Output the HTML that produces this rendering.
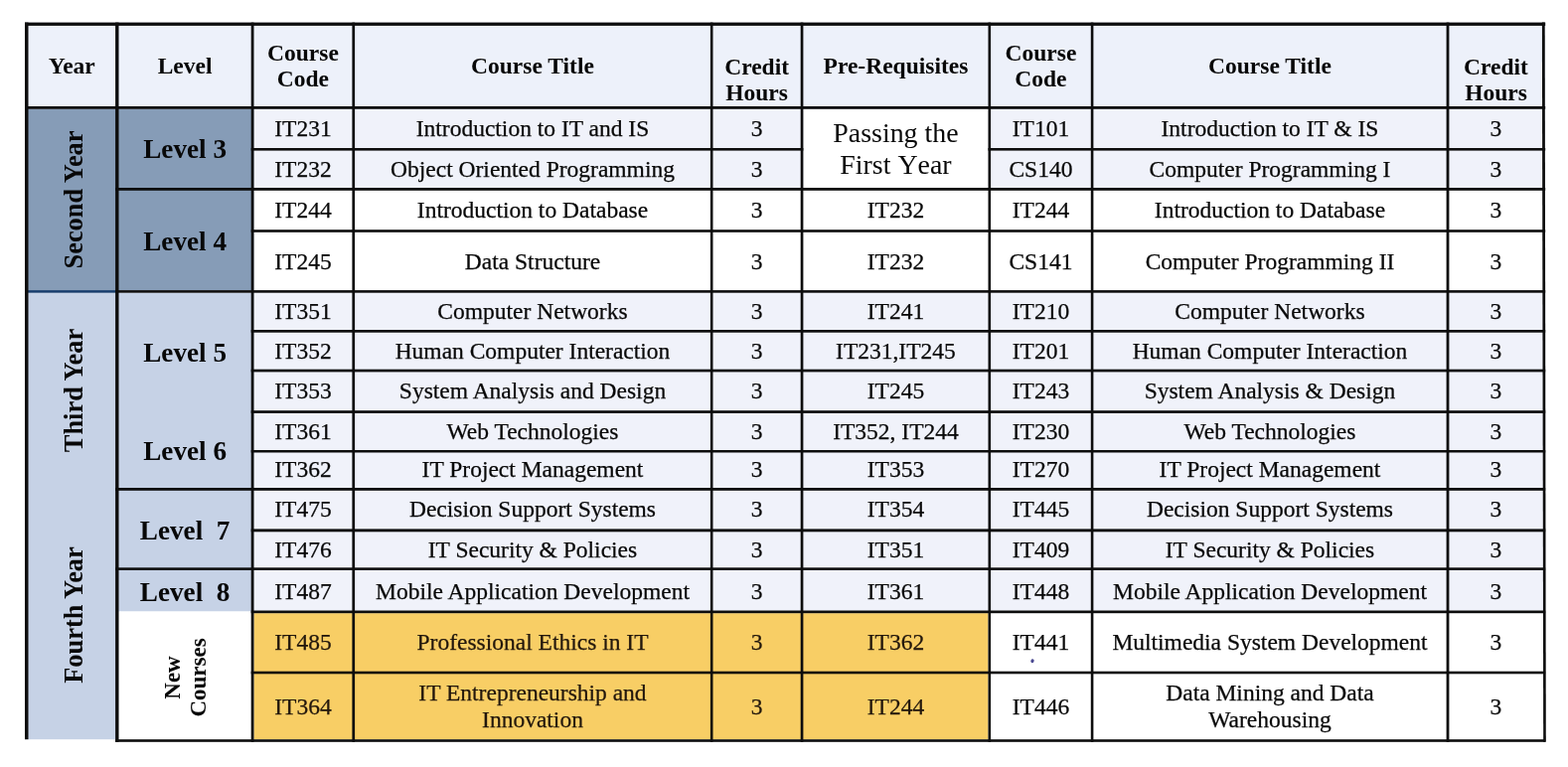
<!DOCTYPE html>
<html><head><meta charset="utf-8"><title>Course Table</title><style>
*{margin:0;padding:0;box-sizing:border-box}
html,body{width:1578px;height:772px;overflow:hidden;background:#fff}
body{position:relative;font-family:"Liberation Serif","Times New Roman",serif;color:#080808}
svg{position:absolute;left:0;top:0}
.c{position:absolute;display:flex;align-items:center;justify-content:center;text-align:center;white-space:nowrap}
.a{position:absolute;text-align:center;white-space:nowrap}
.t{font-size:23.5px;line-height:27px;-webkit-text-stroke:0.25px currentColor}
.y{color:#22170c}
.h{font-size:23.5px;line-height:26.3px;font-weight:bold}
.p{font-size:27.9px;line-height:32.4px;padding-top:2px;font-kerning:none}
.lv{font-size:27.2px;line-height:30px;font-weight:bold}
.yr{font-size:26.4px;line-height:30px;font-weight:bold}
.nc{font-size:23px;line-height:26.4px;font-weight:bold}
</style></head>
<body>
<svg width="1578" height="772" viewBox="0 0 1578 772">
<rect x="25.00" y="22.60" width="1530.20" height="87.20" fill="#edf1fa"/>
<rect x="25.00" y="109.80" width="94.50" height="182.30" fill="#869cb7"/>
<rect x="25.00" y="294.70" width="94.50" height="449.50" fill="#c6d2e6"/>
<rect x="116.10" y="109.80" width="139.40" height="182.30" fill="#869cb7"/>
<rect x="116.10" y="294.70" width="139.40" height="320.80" fill="#c6d2e6"/>
<rect x="119.50" y="615.50" width="133.20" height="128.70" fill="#ffffff"/>
<rect x="255.50" y="109.80" width="1299.70" height="79.20" fill="#f0f2fa"/>
<rect x="808.40" y="109.80" width="186.10" height="79.20" fill="#ffffff"/>
<rect x="255.50" y="191.80" width="1299.70" height="100.30" fill="#ffffff"/>
<rect x="255.50" y="294.70" width="1299.70" height="319.80" fill="#f0f2fa"/>
<rect x="255.50" y="617.20" width="739.00" height="127.00" fill="#f8ce65"/>
<rect x="997.10" y="617.20" width="558.10" height="127.00" fill="#ffffff"/>
<rect x="25.00" y="22.60" width="1530.20" height="3.30" fill="#0d0d0d"/>
<rect x="25.00" y="107.00" width="1530.20" height="2.80" fill="#0d0d0d"/>
<rect x="252.70" y="149.00" width="555.70" height="2.60" fill="#0d0d0d"/>
<rect x="994.50" y="149.00" width="560.70" height="2.60" fill="#0d0d0d"/>
<rect x="116.10" y="189.00" width="1439.10" height="2.80" fill="#0d0d0d"/>
<rect x="252.70" y="231.20" width="1302.50" height="2.60" fill="#0d0d0d"/>
<rect x="25.00" y="292.10" width="91.10" height="2.60" fill="#163c6c"/>
<rect x="116.10" y="292.10" width="1439.10" height="2.60" fill="#0d0d0d"/>
<rect x="252.70" y="332.00" width="1302.50" height="2.70" fill="#0d0d0d"/>
<rect x="252.70" y="371.70" width="1302.50" height="2.70" fill="#0d0d0d"/>
<rect x="252.70" y="413.20" width="1302.50" height="2.70" fill="#0d0d0d"/>
<rect x="252.70" y="453.00" width="1302.50" height="2.50" fill="#0d0d0d"/>
<rect x="252.70" y="532.40" width="1302.50" height="2.90" fill="#0d0d0d"/>
<rect x="252.70" y="614.50" width="1302.50" height="2.70" fill="#0d0d0d"/>
<rect x="252.70" y="675.70" width="1302.50" height="2.60" fill="#0d0d0d"/>
<rect x="116.10" y="491.00" width="1439.10" height="2.80" fill="#0d0d0d"/>
<rect x="116.10" y="571.30" width="1439.10" height="2.60" fill="#0d0d0d"/>
<rect x="116.10" y="744.20" width="1439.10" height="2.60" fill="#0d0d0d"/>
<ellipse cx="1039" cy="665.2" rx="1.6" ry="2" fill="#4b4a92" transform="rotate(25 1039 665.2)"/>
<rect x="25.00" y="22.60" width="3.50" height="721.60" fill="#0d0d0d"/>
<rect x="116.10" y="22.60" width="3.40" height="724.20" fill="#0d0d0d"/>
<rect x="252.70" y="22.60" width="2.80" height="724.20" fill="#0d0d0d"/>
<rect x="354.40" y="22.60" width="2.70" height="724.20" fill="#0d0d0d"/>
<rect x="714.90" y="22.60" width="2.60" height="724.20" fill="#0d0d0d"/>
<rect x="805.70" y="22.60" width="2.70" height="724.20" fill="#0d0d0d"/>
<rect x="994.50" y="22.60" width="2.60" height="724.20" fill="#0d0d0d"/>
<rect x="1097.80" y="22.60" width="2.60" height="724.20" fill="#0d0d0d"/>
<rect x="1455.60" y="22.60" width="2.80" height="724.20" fill="#0d0d0d"/>
<polygon points="1551.9,22.6 1554.7,22.6 1555.8,746.8 1553.2,746.8" fill="#0d0d0d"/>
</svg>
<div class="c h" style="left:28.5px;top:25.9px;width:87.6px;height:81.1px;">Year</div>
<div class="c h" style="left:119.5px;top:25.9px;width:133.2px;height:81.1px;">Level</div>
<div class="c h" style="left:255.5px;top:25.9px;width:98.9px;height:81.1px;">Course<br>Code</div>
<div class="c h" style="left:357.1px;top:25.9px;width:357.8px;height:81.1px;">Course Title</div>
<div class="c h" style="left:808.4px;top:25.9px;width:186.1px;height:81.1px;">Pre-Requisites</div>
<div class="c h" style="left:997.1px;top:25.9px;width:100.7px;height:81.1px;">Course<br>Code</div>
<div class="c h" style="left:1100.4px;top:25.9px;width:355.2px;height:81.1px;">Course Title</div>
<div class="a h" style="left:761.6px;top:80.2px;transform:translate(-50%,-50%)">Credit<br>Hours</div>
<div class="a h" style="left:1505.5px;top:80.2px;transform:translate(-50%,-50%)">Credit<br>Hours</div>
<div class="c t" style="left:255.5px;top:109.8px;width:98.9px;height:39.2px;">IT231</div>
<div class="c t" style="left:357.1px;top:109.8px;width:357.8px;height:39.2px;">Introduction to IT and IS</div>
<div class="c t" style="left:717.5px;top:109.8px;width:88.2px;height:39.2px;">3</div>
<div class="c t" style="left:997.1px;top:109.8px;width:100.7px;height:39.2px;">IT101</div>
<div class="c t" style="left:1100.4px;top:109.8px;width:355.2px;height:39.2px;">Introduction to IT &amp; IS</div>
<div class="c t" style="left:1458.4px;top:109.8px;width:94.1px;height:39.2px;">3</div>
<div class="c t" style="left:255.5px;top:151.6px;width:98.9px;height:37.4px;">IT232</div>
<div class="c t" style="left:357.1px;top:151.6px;width:357.8px;height:37.4px;">Object Oriented Programming</div>
<div class="c t" style="left:717.5px;top:151.6px;width:88.2px;height:37.4px;">3</div>
<div class="c t" style="left:997.1px;top:151.6px;width:100.7px;height:37.4px;">CS140</div>
<div class="c t" style="left:1100.4px;top:151.6px;width:355.2px;height:37.4px;">Computer Programming I</div>
<div class="c t" style="left:1458.4px;top:151.6px;width:94.1px;height:37.4px;">3</div>
<div class="c t" style="left:255.5px;top:191.8px;width:98.9px;height:39.4px;">IT244</div>
<div class="c t" style="left:357.1px;top:191.8px;width:357.8px;height:39.4px;">Introduction to Database</div>
<div class="c t" style="left:717.5px;top:191.8px;width:88.2px;height:39.4px;">3</div>
<div class="c t" style="left:808.4px;top:191.8px;width:186.1px;height:39.4px;">IT232</div>
<div class="c t" style="left:997.1px;top:191.8px;width:100.7px;height:39.4px;">IT244</div>
<div class="c t" style="left:1100.4px;top:191.8px;width:355.2px;height:39.4px;">Introduction to Database</div>
<div class="c t" style="left:1458.4px;top:191.8px;width:94.1px;height:39.4px;">3</div>
<div class="c t" style="left:255.5px;top:234.8px;width:98.9px;height:58.3px;">IT245</div>
<div class="c t" style="left:357.1px;top:234.8px;width:357.8px;height:58.3px;">Data Structure</div>
<div class="c t" style="left:717.5px;top:234.8px;width:88.2px;height:58.3px;">3</div>
<div class="c t" style="left:808.4px;top:234.8px;width:186.1px;height:58.3px;">IT232</div>
<div class="c t" style="left:997.1px;top:234.8px;width:100.7px;height:58.3px;">CS141</div>
<div class="c t" style="left:1100.4px;top:234.8px;width:355.2px;height:58.3px;">Computer Programming II</div>
<div class="c t" style="left:1458.4px;top:234.8px;width:94.1px;height:58.3px;">3</div>
<div class="c t" style="left:255.5px;top:294.7px;width:98.9px;height:37.3px;">IT351</div>
<div class="c t" style="left:357.1px;top:294.7px;width:357.8px;height:37.3px;">Computer Networks</div>
<div class="c t" style="left:717.5px;top:294.7px;width:88.2px;height:37.3px;">3</div>
<div class="c t" style="left:808.4px;top:294.7px;width:186.1px;height:37.3px;">IT241</div>
<div class="c t" style="left:997.1px;top:294.7px;width:100.7px;height:37.3px;">IT210</div>
<div class="c t" style="left:1100.4px;top:294.7px;width:355.2px;height:37.3px;">Computer Networks</div>
<div class="c t" style="left:1458.4px;top:294.7px;width:94.1px;height:37.3px;">3</div>
<div class="c t" style="left:255.5px;top:334.7px;width:98.9px;height:37.0px;">IT352</div>
<div class="c t" style="left:357.1px;top:334.7px;width:357.8px;height:37.0px;">Human Computer Interaction</div>
<div class="c t" style="left:717.5px;top:334.7px;width:88.2px;height:37.0px;">3</div>
<div class="c t" style="left:808.4px;top:334.7px;width:186.1px;height:37.0px;">IT231,IT245</div>
<div class="c t" style="left:997.1px;top:334.7px;width:100.7px;height:37.0px;">IT201</div>
<div class="c t" style="left:1100.4px;top:334.7px;width:355.2px;height:37.0px;">Human Computer Interaction</div>
<div class="c t" style="left:1458.4px;top:334.7px;width:94.1px;height:37.0px;">3</div>
<div class="c t" style="left:255.5px;top:374.4px;width:98.9px;height:38.8px;">IT353</div>
<div class="c t" style="left:357.1px;top:374.4px;width:357.8px;height:38.8px;">System Analysis and Design</div>
<div class="c t" style="left:717.5px;top:374.4px;width:88.2px;height:38.8px;">3</div>
<div class="c t" style="left:808.4px;top:374.4px;width:186.1px;height:38.8px;">IT245</div>
<div class="c t" style="left:997.1px;top:374.4px;width:100.7px;height:38.8px;">IT243</div>
<div class="c t" style="left:1100.4px;top:374.4px;width:355.2px;height:38.8px;">System Analysis &amp; Design</div>
<div class="c t" style="left:1458.4px;top:374.4px;width:94.1px;height:38.8px;">3</div>
<div class="c t" style="left:255.5px;top:415.9px;width:98.9px;height:37.1px;">IT361</div>
<div class="c t" style="left:357.1px;top:415.9px;width:357.8px;height:37.1px;">Web Technologies</div>
<div class="c t" style="left:717.5px;top:415.9px;width:88.2px;height:37.1px;">3</div>
<div class="c t" style="left:808.4px;top:415.9px;width:186.1px;height:37.1px;">IT352, IT244</div>
<div class="c t" style="left:997.1px;top:415.9px;width:100.7px;height:37.1px;">IT230</div>
<div class="c t" style="left:1100.4px;top:415.9px;width:355.2px;height:37.1px;">Web Technologies</div>
<div class="c t" style="left:1458.4px;top:415.9px;width:94.1px;height:37.1px;">3</div>
<div class="c t" style="left:255.5px;top:454.5px;width:98.9px;height:35.5px;">IT362</div>
<div class="c t" style="left:357.1px;top:454.5px;width:357.8px;height:35.5px;">IT Project Management</div>
<div class="c t" style="left:717.5px;top:454.5px;width:88.2px;height:35.5px;">3</div>
<div class="c t" style="left:808.4px;top:454.5px;width:186.1px;height:35.5px;">IT353</div>
<div class="c t" style="left:997.1px;top:454.5px;width:100.7px;height:35.5px;">IT270</div>
<div class="c t" style="left:1100.4px;top:454.5px;width:355.2px;height:35.5px;">IT Project Management</div>
<div class="c t" style="left:1458.4px;top:454.5px;width:94.1px;height:35.5px;">3</div>
<div class="c t" style="left:255.5px;top:492.8px;width:98.9px;height:38.6px;">IT475</div>
<div class="c t" style="left:357.1px;top:492.8px;width:357.8px;height:38.6px;">Decision Support Systems</div>
<div class="c t" style="left:717.5px;top:492.8px;width:88.2px;height:38.6px;">3</div>
<div class="c t" style="left:808.4px;top:492.8px;width:186.1px;height:38.6px;">IT354</div>
<div class="c t" style="left:997.1px;top:492.8px;width:100.7px;height:38.6px;">IT445</div>
<div class="c t" style="left:1100.4px;top:492.8px;width:355.2px;height:38.6px;">Decision Support Systems</div>
<div class="c t" style="left:1458.4px;top:492.8px;width:94.1px;height:38.6px;">3</div>
<div class="c t" style="left:255.5px;top:535.3px;width:98.9px;height:36.0px;">IT476</div>
<div class="c t" style="left:357.1px;top:535.3px;width:357.8px;height:36.0px;">IT Security &amp; Policies</div>
<div class="c t" style="left:717.5px;top:535.3px;width:88.2px;height:36.0px;">3</div>
<div class="c t" style="left:808.4px;top:535.3px;width:186.1px;height:36.0px;">IT351</div>
<div class="c t" style="left:997.1px;top:535.3px;width:100.7px;height:36.0px;">IT409</div>
<div class="c t" style="left:1100.4px;top:535.3px;width:355.2px;height:36.0px;">IT Security &amp; Policies</div>
<div class="c t" style="left:1458.4px;top:535.3px;width:94.1px;height:36.0px;">3</div>
<div class="c t" style="left:255.5px;top:574.9px;width:98.9px;height:40.6px;">IT487</div>
<div class="c t" style="left:357.1px;top:574.9px;width:357.8px;height:40.6px;">Mobile Application Development</div>
<div class="c t" style="left:717.5px;top:574.9px;width:88.2px;height:40.6px;">3</div>
<div class="c t" style="left:808.4px;top:574.9px;width:186.1px;height:40.6px;">IT361</div>
<div class="c t" style="left:997.1px;top:574.9px;width:100.7px;height:40.6px;">IT448</div>
<div class="c t" style="left:1100.4px;top:574.9px;width:355.2px;height:40.6px;">Mobile Application Development</div>
<div class="c t" style="left:1458.4px;top:574.9px;width:94.1px;height:40.6px;">3</div>
<div class="c t y" style="left:255.5px;top:617.2px;width:98.9px;height:58.5px;">IT485</div>
<div class="c t y" style="left:357.1px;top:617.2px;width:357.8px;height:58.5px;">Professional Ethics in IT</div>
<div class="c t y" style="left:717.5px;top:617.2px;width:88.2px;height:58.5px;">3</div>
<div class="c t y" style="left:808.4px;top:617.2px;width:186.1px;height:58.5px;">IT362</div>
<div class="c t" style="left:997.1px;top:617.2px;width:100.7px;height:58.5px;">IT441</div>
<div class="c t" style="left:1100.4px;top:617.2px;width:355.2px;height:58.5px;">Multimedia System Development</div>
<div class="c t" style="left:1458.4px;top:617.2px;width:94.1px;height:58.5px;">3</div>
<div class="c t y" style="left:255.5px;top:678.3px;width:98.9px;height:65.9px;">IT364</div>
<div class="c t y" style="left:357.1px;top:678.3px;width:357.8px;height:65.9px;">IT Entrepreneurship and<br>Innovation</div>
<div class="c t y" style="left:717.5px;top:678.3px;width:88.2px;height:65.9px;">3</div>
<div class="c t y" style="left:808.4px;top:678.3px;width:186.1px;height:65.9px;">IT244</div>
<div class="c t" style="left:997.1px;top:678.3px;width:100.7px;height:65.9px;">IT446</div>
<div class="c t" style="left:1100.4px;top:678.3px;width:355.2px;height:65.9px;">Data Mining and Data<br>Warehousing</div>
<div class="c t" style="left:1458.4px;top:678.3px;width:94.1px;height:65.9px;">3</div>
<div class="c p" style="left:808.4px;top:109.8px;width:186.1px;height:79.2px;">Passing the<br>First Year</div>
<div class="a lv" style="left:186.1px;top:150.0px;transform:translate(-50%,-50%)">Level 3</div>
<div class="a lv" style="left:186.1px;top:243.3px;transform:translate(-50%,-50%)">Level 4</div>
<div class="a lv" style="left:186.1px;top:354.5px;transform:translate(-50%,-50%)">Level 5</div>
<div class="a lv" style="left:186.1px;top:454.4px;transform:translate(-50%,-50%)">Level 6</div>
<div class="a lv" style="left:186.1px;top:534.1px;transform:translate(-50%,-50%)">Level&nbsp; 7</div>
<div class="a lv" style="left:186.1px;top:595.8px;transform:translate(-50%,-50%)">Level&nbsp; 8</div>
<div class="a yr" style="left:74.0px;top:201.0px;transform:translate(-50%,-50%) rotate(-90deg)">Second Year</div>
<div class="a yr" style="left:74.0px;top:392.5px;transform:translate(-50%,-50%) rotate(-90deg)">Third Year</div>
<div class="a yr" style="left:74.0px;top:618.9px;transform:translate(-50%,-50%) rotate(-90deg)">Fourth Year</div>
<div class="a nc" style="left:187.0px;top:681.5px;transform:translate(-50%,-50%) rotate(-90deg)">New<br>Courses</div>
</body></html>
